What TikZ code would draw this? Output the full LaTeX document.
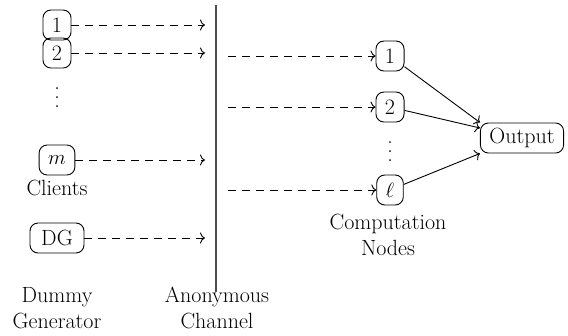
\documentclass[tikz,border=0pt]{standalone}
\usetikzlibrary{arrows.meta}
\newcommand{\mydots}{\vbox{\baselineskip=9pt\lineskiplimit=-10pt\hbox{.}\hbox{.}\hbox{.}}}
\begin{document}
\begin{tikzpicture}[x=1pt,y=-1pt,
  every node/.style={font=\fontsize{22}{26}\selectfont},
  box/.style={draw, rounded corners=8pt, line width=0.9pt, minimum height=30pt, inner xsep=9pt, inner ysep=0pt},
  lbl/.style={align=center, inner sep=0pt},
  tip/.style={-{To[length=5pt,width=11pt]}},
  darr/.style={tip, line width=0.9pt, dash pattern=on 8pt off 6pt},
  sarr/.style={tip, line width=0.9pt},
  chan/.style={line width=1.3pt, black!70}]
\useasboundingbox (0,0) rectangle (568,335);
% channel
\coordinate (chtop) at (216,5);
\coordinate (chbot) at (216,292);
\draw[chan] (chtop) -- (chbot);
\coordinate (chL) at (205,0);
\coordinate (chR) at (228,0);
% clients
\node[box] (c1) at (57,25) {1};
\node[box] (c2) at (57,53) {2};
\node[inner sep=0pt] (cdots) at (57,98) {\mydots};
\node[box] (cm) at (57,160) {$m$};
\node[lbl] (clients) at (57,188) {Clients};
\node[box, minimum width=54pt] (dg) at (57,238) {DG};
\draw[darr] (c1.east) -- (c1.east -| chL);
\draw[darr] (c2.east) -- (c2.east -| chL);
\draw[darr] (cm.east) -- (cm.east -| chL);
\draw[darr] (dg.east) -- (dg.east -| chL);
% computation nodes
\node[box] (n1) at (390,56) {1};
\node[box] (n2) at (390,107) {2};
\node[inner sep=0pt] (ndots) at (390,152) {\mydots};
\node[box] (nl) at (390,190) {$\ell$};
\node[lbl] (comp) at (388,235) {Computation\\Nodes};
\draw[darr] (n1.west -| chR) -- (n1.west);
\draw[darr] (n2.west -| chR) -- (n2.west);
\draw[darr] (nl.west -| chR) -- (nl.west);
% output
\node[box, minimum width=83pt] (out) at (522,138) {Output};
\draw[sarr] (n1) -- (out.north west);
\draw[sarr] (n2) -- ([yshift=10pt]out.west);
\draw[sarr] (nl) -- (out.south west);
% bottom labels
\node[lbl] (dgl) at (57,308) {Dummy\\Generator};
\node[lbl] (chl) at (217,308) {Anonymous\\Channel};
\end{tikzpicture}
\end{document}
